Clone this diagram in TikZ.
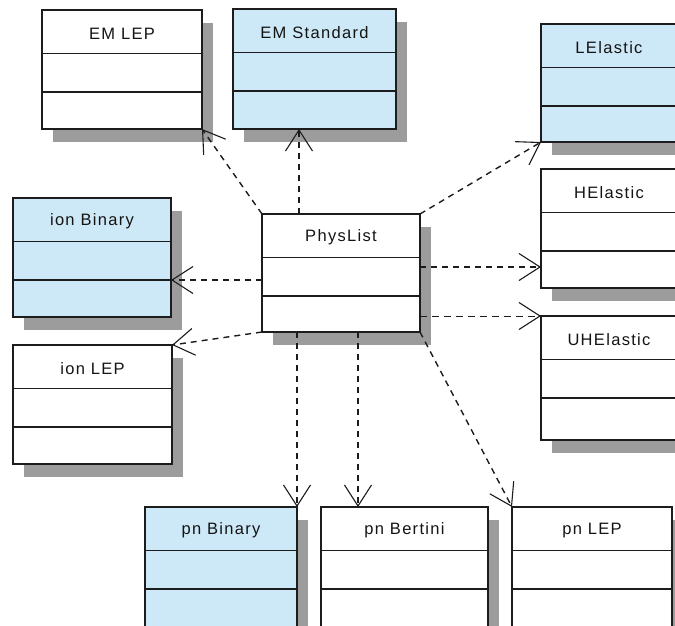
\documentclass[tikz,border=0pt]{standalone}
\usepackage{fontspec}
\setmainfont{Liberation Sans}
\usetikzlibrary{arrows.meta,calc,fit}

\definecolor{umlblue}{HTML}{CDE8F6}
\definecolor{umlshadow}{HTML}{9C9C9C}
\definecolor{umlline}{HTML}{1C1C1C}

\tikzset{
  classbox/.style={draw=umlline, line width=1.4pt, inner sep=0pt, outer sep=0pt, fill=white},
  bluebox/.style={classbox, fill=umlblue},
  divider/.style={draw=umlline, line width=1.3pt},
  classtitle/.style={font=\fontsize{16.5}{19}\selectfont\addfontfeatures{LetterSpace=8},
                     text=black!92, inner sep=0pt},
  classshadow/.style={fill=umlshadow},
  dep/.style={draw=umlline, line width=1.4pt, dash pattern=on 6pt off 5pt,
              -{Straight Barb[length=21pt,width=27pt,line width=1.1pt]}},
  thindep/.style={dep, line width=0.8pt, dash pattern=on 7pt off 5pt},
}

% one UML class: name, style, top-left x/y, bottom-right x/y, title
\newcommand{\umlclass}[7]{%
  \fill[classshadow] ({#3+11},{#4+13}) rectangle ({#5+11},{#6+13});
  \node (#1) [#2, fit={(#3,#4) (#5,#6)}] {};
  \draw[divider] ($(#1.north west)+(0,43.5)$) -- ($(#1.north east)+(0,43.5)$)
                 ($(#1.north west)+(0,82)$)   -- ($(#1.north east)+(0,82)$);
  \node (#1-title) [classtitle] at ($(#1.north)+(0,23.5)$) {#7};
}

\begin{document}
\begin{tikzpicture}[x=1pt,y=-1pt]
  \useasboundingbox (0,0) rectangle (675,625);
  \clip (0,0) rectangle (675,625);
  \fill[white] (0,0) rectangle (675,625);

  % classes
  \umlclass{emlep}{classbox}{42}{10}{202}{129}{EM LEP}
  \umlclass{emstd}{bluebox}{233}{9}{396}{129}{EM Standard}
  \umlclass{lelastic}{bluebox}{541}{24}{677}{142}{LElastic}
  \umlclass{helastic}{classbox}{541}{169}{677}{288}{HElastic}
  \umlclass{uhelastic}{classbox}{541}{316}{677}{440}{UHElastic}
  \umlclass{ionbin}{bluebox}{13}{198}{171}{317}{ion Binary}
  \umlclass{ionlep}{classbox}{13}{345}{172}{464}{ion LEP}
  \umlclass{phys}{classbox}{262}{214}{420}{332}{PhysList}
  \umlclass{pnbin}{bluebox}{145}{507}{297}{628}{pn Binary}
  \umlclass{pnbert}{classbox}{321}{507}{488}{628}{pn Bertini}
  \umlclass{pnlep}{classbox}{512}{507}{672}{628}{pn LEP}

  % attachment points on PhysList
  \coordinate (ptop)    at ($(phys.north west)+(37,0)$);
  \coordinate (pright)  at ($(phys.north east)+(0,53)$);
  \coordinate (pright2) at ($(phys.north east)+(0,102)$);
  \coordinate (pleft)   at ($(phys.north west)+(0,66)$);
  \coordinate (pbot1)   at ($(phys.south west)+(35,0)$);
  \coordinate (pbot2)   at ($(phys.south west)+(96,0)$);

  % dependencies
  \draw[dep] (phys.north west) -- (emlep.south east);
  \draw[dep] (ptop) -- (ptop |- emstd.south);
  \draw[dep] (phys.north east) -- (lelastic.south west);
  \draw[dep] (pright) -- (pright -| helastic.west);
  \draw[thindep] (pright2) -- (uhelastic.north west);
  \draw[dep] (pleft) -- (pleft -| ionbin.east);
  \draw[dep] (phys.south west) -- (ionlep.north east);
  \draw[dep] (pbot1) -- (pbot1 |- pnbin.north);
  \draw[dep] (pbot2) -- (pbot2 |- pnbert.north);
  \draw[dep] (phys.south east) -- (pnlep.north west);
\end{tikzpicture}
\end{document}
